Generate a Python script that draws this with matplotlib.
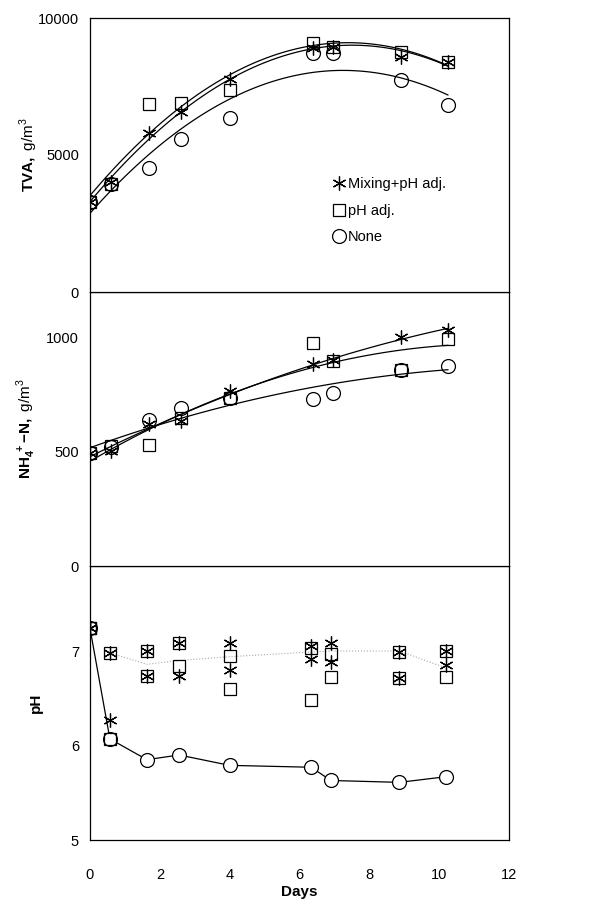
import numpy as np
import matplotlib
matplotlib.use("Agg")
import matplotlib.pyplot as plt

plt.rcParams["font.family"] = ["Liberation Sans", "DejaVu Sans"]
plt.rcParams["mathtext.fontset"] = "custom"
plt.rcParams["mathtext.rm"] = "Liberation Sans"
plt.rcParams["mathtext.bf"] = "Liberation Sans:bold"

# sampling days
days = [0, 0.6, 1.7, 2.6, 4.0, 6.4, 6.95, 8.9, 10.25]

# TVA, g/m3
tva_mix = [3300, 4000, 5790, 6580, 7770, 8920, 8950, 8590, 8400]
tva_ph = [3300, 3950, 6860, 6880, 7370, 9100, 8950, 8770, 8400]
tva_none = [3300, 3950, 4540, 5570, 6340, 8710, 8710, 7740, 6830]

# NH4+-N, g/m3
nh4_mix = [496, 503, 620, 634, 765, 886, 903, 1001, 1034]
nh4_ph = [496, 525, 528, 649, 736, 976, 896, 857, 995]
nh4_none = [496, 520, 638, 692, 736, 731, 758, 857, 877]

# pH (before / after adjustment)
ph_days = [0, 0.57, 1.63, 2.55, 4.0, 6.33, 6.9, 8.86, 10.2]
ph_mix_after = [7.24, 6.98, 7.0, 7.08, 7.08, 7.05, 7.08, 6.99, 7.0]
ph_mix_before = [7.24, 6.27, 6.74, 6.74, 6.80, 6.92, 6.88, 6.71, 6.85]
ph_adj_after = [7.24, 6.98, 7.0, 7.08, 6.95, 7.03, 6.97, 6.99, 7.0]
ph_adj_before = [7.24, 6.07, 6.74, 6.84, 6.60, 6.48, 6.72, 6.71, 6.73]
ph_none = [7.24, 6.07, 5.85, 5.90, 5.79, 5.77, 5.63, 5.61, 5.67]
ph_trend = [6.98, 6.86, 6.9, 6.94, 6.99, 7.0, 7.0, 6.82]

STAR = (6, 2, 0)
mk = dict(linestyle="none", markerfacecolor="none", markeredgecolor="black",
          markeredgewidth=0.9)

fig = plt.figure(figsize=(5.9, 9.01), dpi=100)
left, width = 90 / 590, 419 / 590
h = 274 / 901
ax3 = fig.add_axes([left, 61 / 901, width, h])
ax2 = fig.add_axes([left, 335 / 901, width, h], sharex=ax3)
ax1 = fig.add_axes([left, 609 / 901, width, h], sharex=ax3)


def trend(ax, x, y):
    c = np.polyfit(x, y, 2)
    xs = np.linspace(min(x), max(x), 100)
    ax.plot(xs, np.polyval(c, xs), color="black", lw=0.9)


for ys in (tva_mix, tva_ph, tva_none):
    trend(ax1, days, ys)
ax1.plot(days, tva_mix, marker=STAR, markersize=10, label="Mixing+pH adj.", **mk)
ax1.plot(days, tva_ph, marker="s", markersize=9, label="pH adj.", **mk)
ax1.plot(days, tva_none, marker="o", markersize=10, label="None", **mk)
ax1.set_ylim(0, 10000)
ax1.set_yticks([0, 5000, 10000])
ax1.set_ylabel(r"$\mathbf{TVA,}$ g/m$^3$", fontsize=11)
ax1.legend(loc="upper left", bbox_to_anchor=(0.57, 0.44), frameon=False,
           handlelength=0.6, handletextpad=0.3, labelspacing=0.85,
           fontsize=10.5, borderaxespad=0)

for ys in (nh4_mix, nh4_ph, nh4_none):
    trend(ax2, days, ys)
ax2.plot(days, nh4_mix, marker=STAR, markersize=10, **mk)
ax2.plot(days, nh4_ph, marker="s", markersize=9, **mk)
ax2.plot(days, nh4_none, marker="o", markersize=10, **mk)
ax2.set_ylim(0, 1200)
ax2.set_yticks([0, 500, 1000])
ax2.set_ylabel(r"$\mathbf{NH_4^{\ +}}$$\mathbf{-N,}$ g/m$^3$", fontsize=11)

ax3.plot(ph_days[1:], ph_trend, color="#aaaaaa", lw=0.8, linestyle=":")
ax3.plot(ph_days, ph_none, color="black", lw=0.9, marker="o", markersize=10,
         markerfacecolor="white", markeredgecolor="black", markeredgewidth=0.9)
ax3.plot(ph_days, ph_adj_after, marker="s", markersize=9, **mk)
ax3.plot(ph_days, ph_adj_before, marker="s", markersize=9, **mk)
ax3.plot(ph_days, ph_mix_after, marker=STAR, markersize=10, **mk)
ax3.plot(ph_days, ph_mix_before, marker=STAR, markersize=10, **mk)
ax3.set_ylim(5, 7.9)
ax3.set_yticks([5, 6, 7])
ax3.set_ylabel("pH", fontsize=11, fontweight="bold")
ax3.set_xlim(0, 12)
ax3.set_xticks(range(0, 13, 2))
ax3.set_xlabel("Days", fontsize=11, fontweight="bold", labelpad=2)

for ax in (ax1, ax2, ax3):
    ax.tick_params(length=0, labelsize=10.5, pad=8)
    for s in ax.spines.values():
        s.set_linewidth(0.9)
for ax in (ax1, ax2):
    ax.tick_params(labelbottom=False)
ax3.tick_params(axis="x", pad=20)
ax1.yaxis.set_label_coords(-0.12, 0.5)
ax2.yaxis.set_label_coords(-0.125, 0.5)
ax3.yaxis.set_label_coords(-0.112, 0.5)

fig.savefig("out.png", dpi=100)
